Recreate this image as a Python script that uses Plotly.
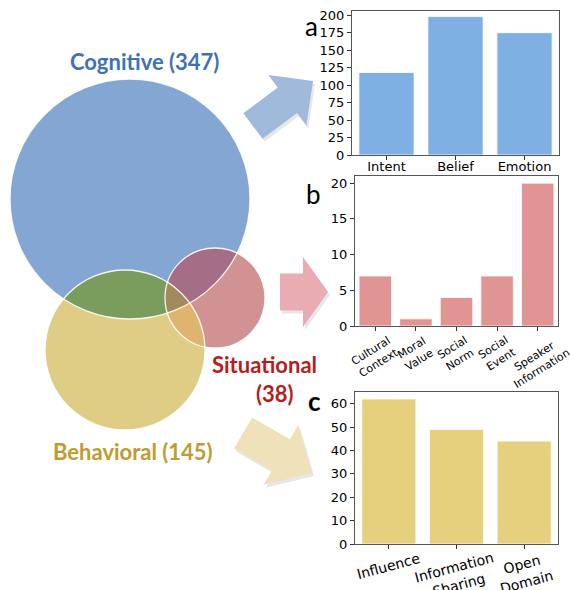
import numpy as np
import plotly.graph_objects as go

# ---------------- data ----------------
set_names = ["Cognitive", "Behavioral", "Situational"]
set_counts = [347, 145, 38]

cog_cats = ["Intent", "Belief", "Emotion"]
cog_vals = [118, 198, 175]

sit_cats = ["Cultural<br>Context", "Moral<br>Value", "Social<br>Norm", "Social<br>Event", "Speaker<br>Information"]
sit_vals = [7, 1, 4, 7, 20]

beh_cats = ["Influence", "Information<br>Sharing", "Open<br>Domain"]
beh_vals = [62, 49, 44]

# ---------------- layout helpers ----------------
W, H = 570, 590

def xd(l, r):
    return [l / W, r / W]

def yd(t, b):
    return [1 - b / H, 1 - t / H]

def cat_range(cats):
    return [-0.5, len(cats) - 0.5]

fig = go.Figure()

bar_line = dict(color="rgba(255,255,255,0.8)", width=1)
fig.add_trace(go.Bar(x=cog_cats, y=cog_vals, marker=dict(color="#7EB0E4", line=bar_line),
                     xaxis="x", yaxis="y", showlegend=False, hoverinfo="skip"))
fig.add_trace(go.Bar(x=sit_cats, y=sit_vals, marker=dict(color="#E09494", line=bar_line),
                     xaxis="x2", yaxis="y2", showlegend=False, hoverinfo="skip"))
fig.add_trace(go.Bar(x=beh_cats, y=beh_vals, marker=dict(color="#E6D07D", line=bar_line),
                     xaxis="x3", yaxis="y3", showlegend=False, hoverinfo="skip"))
# overlay pixel-coordinate axis for the Venn diagram and arrows
fig.add_trace(go.Scatter(x=[0], y=[0], mode="markers", marker=dict(opacity=0),
                         xaxis="x4", yaxis="y4", showlegend=False, hoverinfo="skip"))

tickfont = dict(family="DejaVu Sans", size=13, color="black")
ax_common = dict(showline=True, mirror=True, linecolor="#555", linewidth=1,
                 ticks="outside", ticklen=4, tickcolor="#333", showgrid=False,
                 zeroline=False, tickfont=tickfont, fixedrange=True, automargin=False)

fig.update_layout(
    width=W, height=H, margin=dict(l=0, r=0, t=0, b=0, autoexpand=False),
    paper_bgcolor="white", plot_bgcolor="rgba(0,0,0,0)",
    bargap=0.2,
    xaxis=dict(domain=xd(352, 559), anchor="y", range=cat_range(cog_cats),
               ticklabelstandoff=-5, **ax_common),
    yaxis=dict(domain=yd(11, 155), anchor="x", range=[0, 206],
               tickvals=[0, 25, 50, 75, 100, 125, 150, 175, 200], **ax_common),
    xaxis2=dict(domain=xd(355, 558), anchor="y2", range=cat_range(sit_cats),
                showticklabels=False, **ax_common),
    yaxis2=dict(domain=yd(176, 326), anchor="x2", range=[0, 21],
                tickvals=[0, 5, 10, 15, 20], **ax_common),
    xaxis3=dict(domain=xd(355, 558), anchor="y3", range=cat_range(beh_cats),
                showticklabels=False, **ax_common),
    yaxis3=dict(domain=yd(392, 544), anchor="x3", range=[0, 65],
                tickvals=[0, 10, 20, 30, 40, 50, 60], **ax_common),
    xaxis4=dict(domain=[0, 1], anchor="y4", range=[0, W], visible=False,
                fixedrange=True, automargin=False),
    yaxis4=dict(domain=[0, 1], anchor="x4", range=[H, 0], visible=False,
                fixedrange=True, automargin=False),
)

# rotated, centred category labels for panels b and c
for cat in sit_cats:
    fig.add_annotation(text=cat, x=cat, xref="x2", y=331, yref="y4", showarrow=False,
                       xanchor="center", yanchor="top", textangle=-32, align="center",
                       font=dict(family="DejaVu Sans", size=11, color="black"))
for cat in beh_cats:
    fig.add_annotation(text=cat, x=cat, xref="x3", y=547, yref="y4", showarrow=False,
                       xanchor="center", yanchor="top", textangle=-15, align="center",
                       font=dict(family="DejaVu Sans", size=14, color="black"))

# ---------------- Venn diagram ----------------
circles = {
    "C": (130, 199, 120),
    "B": (125, 350, 80),
    "S": (215, 298, 50),
}
base_colors = {"C": "#84A6D3", "B": "#DFCD86", "S": "#D09292"}

def circ_pts(c, n=720):
    cx, cy, r = c
    t = np.linspace(0, 2 * np.pi, n, endpoint=False)
    return np.stack([cx + r * np.cos(t), cy + r * np.sin(t)], axis=1)

def inside(p, c):
    cx, cy, r = c
    return (p[:, 0] - cx) ** 2 + (p[:, 1] - cy) ** 2 <= r ** 2 + 1e-6

def region_path(keys):
    pts = []
    for k in keys:
        p = circ_pts(circles[k])
        mask = np.ones(len(p), bool)
        for o in keys:
            if o != k:
                mask &= inside(p, circles[o])
        pts.append(p[mask])
    pts = np.concatenate(pts)
    m = pts.mean(axis=0)
    ang = np.arctan2(pts[:, 1] - m[1], pts[:, 0] - m[0])
    pts = pts[np.argsort(ang)]
    return "M " + " L ".join(f"{x:.2f},{y:.2f}" for x, y in pts) + " Z"

shapes = []
for k in ["C", "B", "S"]:
    cx, cy, r = circles[k]
    shapes.append(dict(type="circle", xref="x4", yref="y4", x0=cx - r, x1=cx + r,
                       y0=cy - r, y1=cy + r, fillcolor=base_colors[k], line=dict(width=0)))
for keys, col in [(("C", "B"), "#7A9D5E"), (("C", "S"), "#A66E86"),
                  (("B", "S"), "#DEB56E"), (("C", "B", "S"), "#A48A5A")]:
    shapes.append(dict(type="path", xref="x4", yref="y4", path=region_path(keys),
                       fillcolor=col, line=dict(width=0)))
for k in ["C", "B", "S"]:
    cx, cy, r = circles[k]
    shapes.append(dict(type="circle", xref="x4", yref="y4", x0=cx - r, x1=cx + r,
                       y0=cy - r, y1=cy + r, fillcolor="rgba(0,0,0,0)",
                       line=dict(color="rgba(255,255,255,0.9)", width=1.3)))

# ---------------- block arrows ----------------
def arrow_path(tail, tip, ws, wh, hl, off=(0, 0)):
    T = np.array(tail, float) + off
    P = np.array(tip, float) + off
    u = (P - T) / np.linalg.norm(P - T)
    n = np.array([-u[1], u[0]])
    B = P - u * hl
    pts = [T + n * ws / 2, B + n * ws / 2, B + n * wh / 2, P,
           B - n * wh / 2, B - n * ws / 2, T - n * ws / 2]
    return "M " + " L ".join(f"{x:.2f},{y:.2f}" for x, y in pts) + " Z"

arrows = [
    ((253, 126), (313, 81), 32, 63, 32, "#A0BADB"),
    ((280, 292), (328, 292), 37, 70, 25, "#E8ACB2"),
    ((243, 433), (312, 473), 36, 69, 36, "#EFE1B9"),
]
for tail, tip, ws, wh, hl, col in arrows:
    shapes.append(dict(type="path", xref="x4", yref="y4",
                       path=arrow_path(tail, tip, ws, wh, hl, off=(2, 3)),
                       fillcolor="rgba(120,120,120,0.18)", line=dict(width=0)))
    shapes.append(dict(type="path", xref="x4", yref="y4",
                       path=arrow_path(tail, tip, ws, wh, hl),
                       fillcolor=col, line=dict(width=0)))

fig.update_layout(shapes=shapes)

# ---------------- text ----------------
lab_font = "Lato"
ann = [
    dict(text=f"<b>{set_names[0]} ({set_counts[0]})</b>", x=144, y=61, color="#3E72B5", size=22),
    dict(text=f"<b>{set_names[1]} ({set_counts[1]})</b>", x=133, y=451, color="#C09B30", size=22),
    dict(text=f"<b>{set_names[2]}</b>", x=264, y=364, color="#B41E1E", size=22),
    dict(text=f"<b>({set_counts[2]})</b>", x=275, y=393, color="#B41E1E", size=22),
]
for a in ann:
    fig.add_annotation(text=a["text"], x=a["x"], y=a["y"], xref="x4", yref="y4",
                       showarrow=False, xanchor="center", yanchor="middle",
                       font=dict(family=lab_font, size=a["size"], color=a["color"]))

for t, x, y in [("a", 311, 26), ("b", 313, 194), ("<b>c</b>", 314, 401)]:
    fig.add_annotation(text=t, x=x, y=y, xref="x4", yref="y4", showarrow=False,
                       xanchor="center", yanchor="middle",
                       font=dict(family="Lato", size=26, color="black"))

fig.write_html("out.html", config={"displayModeBar": False},
               post_script="document.body.style.margin='0';document.body.style.overflow='hidden';")
